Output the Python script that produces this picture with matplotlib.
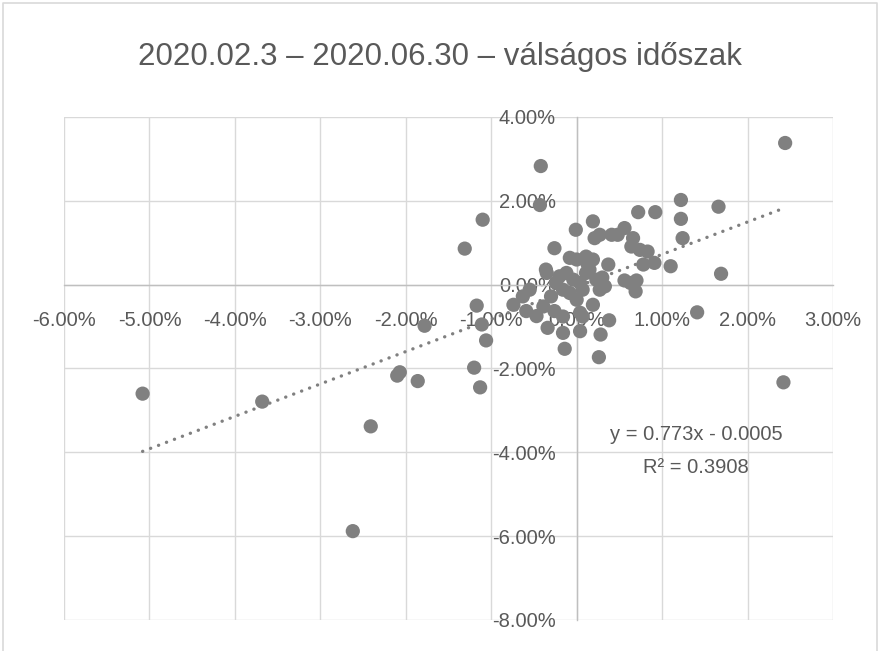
import numpy as np
import matplotlib.pyplot as plt
from matplotlib.ticker import PercentFormatter
from matplotlib.lines import Line2D

plt.rcParams['font.family'] = ['Liberation Sans', 'DejaVu Sans']
plt.rcParams['axes.unicode_minus'] = False

TEXT_COLOR = '#595959'
DOT_COLOR = '#808080'

title = "2020.02.3 – 2020.06.30 – válságos időszak"

# daily returns in percent (x: index, y: stock)
x_pct = [
    -5.08, -3.68, -2.41, -2.62, -2.10, -2.07, -1.86, -1.20, -1.13, -1.78,
    -1.17, -1.11, -1.06, -1.31, -1.10, -0.42, -0.43, 2.44, 2.42, 1.66,
    1.69, 1.41, 1.22, 1.22, 1.24, 0.92, 0.72, 1.10,
    -0.01, 0.19, -0.26, -0.36, 0.21, 0.27, 0.41, 0.48, 0.56, 0.66,
    0.64, 0.74, 0.83, 0.78, 0.91, 0.56, 0.63, 0.70, 0.69, 0.37,
    0.33, 0.38, 0.28, 0.26, -0.14, -0.16, -0.34, -0.47, -0.59, -0.74,
    -0.63, 0.19, 0.19, 0.15, -0.08, 0.00, -0.12, -0.20, -0.04, 0.04,
    0.07, -0.08, -0.16, -0.24, 0.00, 0.11, 0.23, 0.27, -0.30, -0.39,
    0.04, -0.26, 0.11, 0.13, 0.30, -0.55, 0.04, 0.07, -0.16, -0.35,
]
y_pct = [
    -2.60, -2.79, -3.38, -5.88, -2.17, -2.09, -2.30, -1.98, -2.45, -0.98,
    -0.50, -0.95, -1.33, 0.86, 1.55, 2.83, 1.90, 3.38, -2.33, 1.86,
    0.26, -0.66, 2.02, 1.57, 1.11, 1.73, 1.73, 0.44,
    1.31, 1.51, 0.87, 0.36, 1.11, 1.19, 1.19, 1.19, 1.35, 1.11,
    0.91, 0.83, 0.79, 0.48, 0.52, 0.10, 0.04, 0.10, -0.16, 0.48,
    -0.04, -0.85, -1.19, -1.73, -1.53, -1.15, -1.03, -0.75, -0.63, -0.48,
    -0.28, -0.48, 0.60, 0.36, 0.64, 0.60, 0.28, 0.20, 0.12, 0.04,
    -0.12, -0.20, -0.12, 0.04, -0.36, 0.28, 0.12, -0.12, -0.28, -0.52,
    -0.67, -0.63, 0.67, 0.48, 0.17, -0.12, -1.11, -0.76, -0.76, 0.28,
]

# linear trendline as printed on the chart
slope = 0.773
intercept = -0.0005
r_squared = 0.3908

x = np.array(x_pct) / 100
y = np.array(y_pct) / 100

fig = plt.figure(figsize=(8.8, 6.51), dpi=100)
ax = fig.add_axes([64 / 880, 1 - 620 / 651, (833 - 64) / 880, (620 - 117) / 651])

ax.set_xlim(-0.06, 0.03)
ax.set_ylim(-0.08, 0.04)
ax.set_xticks(np.arange(-0.06, 0.0301, 0.01))
ax.set_yticks(np.arange(-0.08, 0.0401, 0.02))
ax.xaxis.set_major_formatter(PercentFormatter(xmax=1, decimals=2))
ax.yaxis.set_major_formatter(PercentFormatter(xmax=1, decimals=2))

ax.grid(True, color='#d9d9d9', linewidth=1.0, zorder=0)
ax.set_axisbelow(True)

# axes cross at zero like in Excel
for side in ['top', 'right']:
    ax.spines[side].set_visible(False)
ax.spines['left'].set_position('zero')
ax.spines['bottom'].set_position('zero')
for side in ['left', 'bottom']:
    ax.spines[side].set_color('#bfbfbf')
    ax.spines[side].set_linewidth(1.0)
    ax.spines[side].set_zorder(1)

ax.tick_params(axis='both', length=0, labelsize=14.5, labelcolor=TEXT_COLOR)
ax.tick_params(axis='x', pad=19)
ax.tick_params(axis='y', pad=15)
for lbl in ax.get_xticklabels() + ax.get_yticklabels():
    lbl.set_zorder(5)

ax.scatter(x, y, s=105, color=DOT_COLOR, edgecolors='none', zorder=3)

xt = np.array([x.min(), x.max()])
ax.plot(xt, slope * xt + intercept, color=DOT_COLOR, linewidth=2.4,
        linestyle=(0, (0.05, 2.5)), dash_capstyle='round', zorder=4)

ax.text(0.0140, -0.0357, f"y = {slope}x - {abs(intercept)}", ha='center', va='center',
        fontsize=14.5, color=TEXT_COLOR, zorder=6)
ax.text(0.0140, -0.0436, f"R² = {r_squared}", ha='center', va='center',
        fontsize=14.5, color=TEXT_COLOR, zorder=6)

fig.text(0.5, 1 - 57 / 651, title, ha='center', va='center', fontsize=22.5, color=TEXT_COLOR)

# light chart border (left, top, right)
bx = [3 / 880, 3 / 880, 877 / 880, 877 / 880]
by = [0, 1 - 3 / 651, 1 - 3 / 651, 0]
fig.add_artist(Line2D(bx, by, transform=fig.transFigure, color='#d9d9d9', linewidth=1.2))

fig.savefig('out.png', dpi=100)
